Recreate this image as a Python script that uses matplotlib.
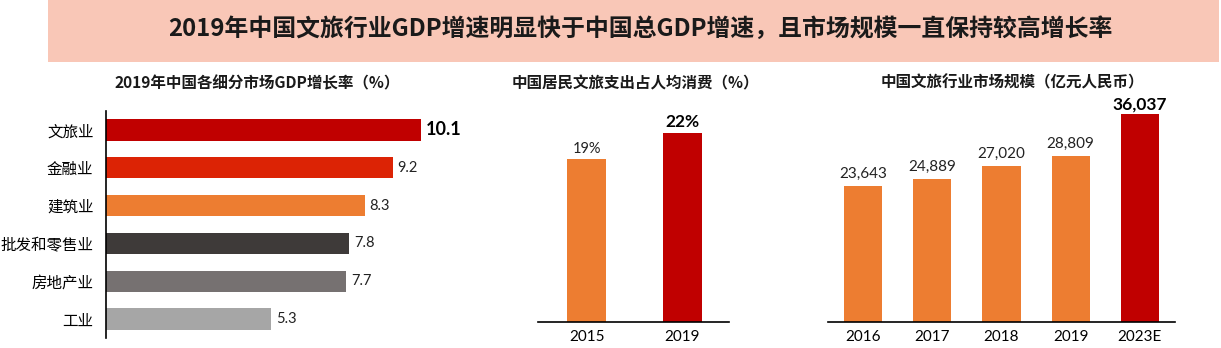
import matplotlib
matplotlib.use("Agg")
import matplotlib.pyplot as plt
from matplotlib.patches import Rectangle

plt.rcParams['font.family'] = ['Noto Sans CJK SC', 'DejaVu Sans']

# ---- data ----
title = "2019年中国文旅行业GDP增速明显快于中国总GDP增速，且市场规模一直保持较高增长率"

p1_title = "2019年中国各细分市场GDP增长率（%）"
p1_categories = ["文旅业", "金融业", "建筑业", "批发和零售业", "房地产业", "工业"]
p1_values = [10.1, 9.2, 8.3, 7.8, 7.7, 5.3]
p1_colors = ["#C00000", "#DC2305", "#ED7D31", "#3E3A39", "#767171", "#A6A6A6"]

p2_title = "中国居民文旅支出占人均消费（%）"
p2_years = ["2015", "2019"]
p2_values = [19, 22]
p2_labels = ["19%", "22%"]
p2_colors = ["#ED7D31", "#C00000"]

p3_title = "中国文旅行业市场规模（亿元人民币）"
p3_years = ["2016", "2017", "2018", "2019", "2023E"]
p3_values = [23643, 24889, 27020, 28809, 36037]
p3_colors = ["#ED7D31", "#ED7D31", "#ED7D31", "#ED7D31", "#C00000"]

W, H = 1221, 348
fig = plt.figure(figsize=(W / 100, H / 100), dpi=100)
fig.patch.set_facecolor("white")

def fx(x):
    return x / W

def fy(y):
    return 1 - y / H

# header band
fig.patches.append(Rectangle((fx(48), fy(61.5)), fx(1219) - fx(48), 1 - fy(61.5),
                             transform=fig.transFigure, facecolor="#F9C7B7",
                             edgecolor="none", zorder=0))
fig.text(fx(640), fy(29), title, ha="center", va="center", fontsize=17.2,
         fontweight="bold", color="#1a1a1a")

num_font = ['Lato', 'Noto Sans CJK SC']

# ---- panel 1: horizontal bars ----
ax1 = fig.add_axes([fx(106), fy(338), fx(450) - fx(106), fy(111) - fy(338)])
ypos = list(range(len(p1_categories)))
ax1.barh(ypos, p1_values, height=0.56, color=p1_colors)
ax1.set_ylim(len(p1_categories) - 0.5, -0.5)
ax1.set_xlim(0, (450 - 106) / 31.2)
ax1.set_yticks(ypos)
ax1.set_yticklabels(p1_categories, fontsize=11.2)
ax1.tick_params(axis="y", length=0, pad=9)
ax1.set_xticks([])
for s in ["top", "right", "bottom"]:
    ax1.spines[s].set_visible(False)
ax1.spines["left"].set_color("#000000")
ax1.spines["left"].set_linewidth(1.2)
for i, v in enumerate(p1_values):
    if i == 0:
        ax1.text(v + 0.15, i, f"{v}", va="center", ha="left", fontsize=13,
                 fontweight="bold", family=num_font, color="#000000")
    else:
        ax1.text(v + 0.15, i, f"{v}", va="center", ha="left", fontsize=10.5,
                 family=num_font, color="#222222")
fig.text(fx(257), fy(83), p1_title, ha="center", va="center", fontsize=11.2,
         fontweight="bold", color="#1a1a1a")

# ---- panel 2: vertical bars ----
ax2 = fig.add_axes([fx(538), fy(322), fx(729) - fx(538), fy(100) - fy(322)])
x2 = list(range(len(p2_years)))
ax2.bar(x2, p2_values, width=0.41, color=p2_colors)
ax2.set_xlim(-0.51, 1.49)
ax2.set_ylim(0, 222 / 8.57)
ax2.set_yticks([])
ax2.set_xticks(x2)
ax2.set_xticklabels(p2_years, fontsize=11, family=num_font)
ax2.tick_params(axis="x", length=0, pad=6)
for s in ["top", "right", "left"]:
    ax2.spines[s].set_visible(False)
ax2.spines["bottom"].set_linewidth(1.2)
for i, (v, lab) in enumerate(zip(p2_values, p2_labels)):
    if i == len(p2_values) - 1:
        ax2.text(i, v + 0.4, lab, ha="center", va="bottom", fontsize=12.5,
                 fontweight="bold", family=num_font)
    else:
        ax2.text(i, v + 0.4, lab, ha="center", va="bottom", fontsize=10.5,
                 family=num_font, color="#222222")
fig.text(fx(635), fy(83), p2_title, ha="center", va="center", fontsize=11.2,
         fontweight="bold", color="#1a1a1a")

# ---- panel 3: vertical bars ----
ax3 = fig.add_axes([fx(828), fy(322), fx(1175) - fx(828), fy(100) - fy(322)])
x3 = list(range(len(p3_years)))
ax3.bar(x3, p3_values, width=0.55, color=p3_colors)
ax3.set_xlim(-0.51, 4.51)
ax3.set_ylim(0, 222 / 0.00576)
ax3.set_yticks([])
ax3.set_xticks(x3)
ax3.set_xticklabels(p3_years, fontsize=11, family=num_font)
ax3.tick_params(axis="x", length=0, pad=6)
for s in ["top", "right", "left"]:
    ax3.spines[s].set_visible(False)
ax3.spines["bottom"].set_linewidth(1.2)
for i, v in enumerate(p3_values):
    if i == len(p3_values) - 1:
        ax3.text(i, v + 400, f"{v:,}", ha="center", va="bottom", fontsize=12.5,
                 fontweight="bold", family=num_font)
    else:
        ax3.text(i, v + 900, f"{v:,}", ha="center", va="bottom", fontsize=11,
                 family=num_font, color="#222222")
fig.text(fx(1012), fy(82), p3_title, ha="center", va="center", fontsize=11.2,
         fontweight="bold", color="#1a1a1a")

fig.savefig("out.png", dpi=100)
